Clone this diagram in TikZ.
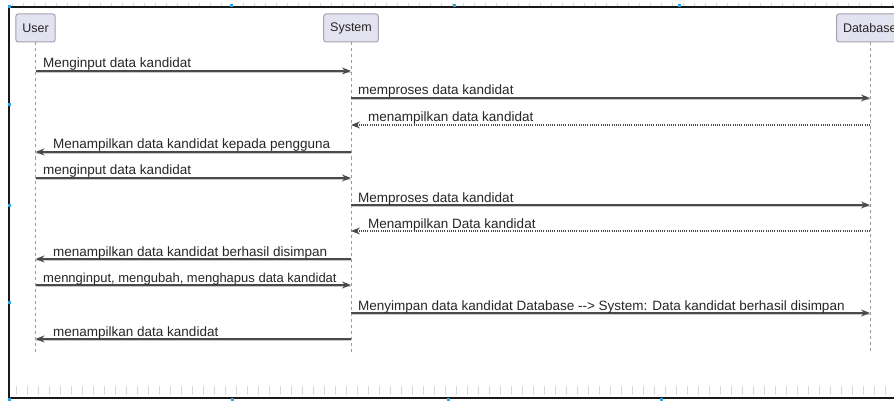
\documentclass[tikz,border=0pt]{standalone}
\usepackage{fontspec}
\setmainfont{Liberation Sans}
\usetikzlibrary{arrows.meta}
\definecolor{partfill}{HTML}{E2E2F0}
\definecolor{partdraw}{HTML}{A3A3B0}
\definecolor{lifegray}{HTML}{9A9A9A}
\definecolor{msggray}{HTML}{4A4A4A}
\definecolor{shadowgray}{HTML}{C8C8C8}
\definecolor{handle}{HTML}{2EA3E6}
\tikzset{
  participant/.style={draw=partdraw, fill=partfill, rounded corners=2.5pt, line width=1pt,
    minimum height=28pt, inner xsep=6.5pt, font=\fontsize{12.5}{14}\selectfont, text=black!85},
  lifeline/.style={draw=lifegray, line width=0.9pt, dash pattern=on 3pt off 3pt},
  msgshadow/.style={preaction={draw=shadowgray, line width=1.2pt, transform canvas={yshift=-1.6pt}, arrows=-}},
  msg/.style={msgshadow, draw=msggray, line width=1.3pt, -{Stealth[length=9pt,width=7pt,inset=3pt]}},
  reply/.style={draw=msggray, line width=1.1pt, dash pattern=on 1pt off 1.2pt,
    -{Stealth[length=9pt,width=7pt,inset=3pt]}},
  lbl/.style={font=\fontsize{13.5}{16}\selectfont, text=black!85, inner sep=0pt, anchor=base west},
  frameline/.style={draw=black!90, line width=2pt},
  tick/.style={draw=black!15, line width=0.6pt},
  hdl/.style={fill=handle, inner sep=0pt, minimum size=3pt, shape=rectangle}
}
\begin{document}
\begin{tikzpicture}[x=1pt, y=-1pt]
\useasboundingbox (0,0) rectangle (894,401);
\fill[white] (0,0) rectangle (894,401);

% faint ruler ticks along the top and bottom edges
\foreach \i in {0,...,80} {
  \draw[tick] (12+11*\i,3) -- (12+11*\i,6);
  \draw[tick] (16+11*\i,386) -- (16+11*\i,395);
}

% window frame
\draw[frameline] (894,7) -- (9,7) -- (9,398) -- (894,398);

% selection handles
\foreach \p in {(9,7),(231,6),(454,6),(679,6),(9,105),(9,205),(9,302),(9,399),(232,399),(448,399),(661,399)}
  \node[hdl] at \p {};

% participants
\node[participant] (user) at (35.5,28) {User};
\node[participant] (sys)  at (351,28) {System};
\node[participant, anchor=west] (db) at (836,28) {Database};

% lifeline ends
\coordinate (userEnd) at (35.5,352);
\coordinate (sysEnd)  at (351,352);
\coordinate (dbEnd)   at (870,352);
\coordinate (dbTop) at (870,42);

\draw[lifeline] (user.south) -- (userEnd);
\draw[lifeline] (sys.south) -- (sysEnd);
\draw[lifeline] (dbTop) -- (dbEnd);

% message anchor points on the lifelines
\foreach \n/\y in {1/71,2/98,3/125,4/152,5/178,6/205,7/231,8/259,9/285,10/313,11/339} {
  \coordinate (u\n) at (35.5,\y);
  \coordinate (s\n) at (351,\y);
  \coordinate (d\n) at (870,\y);
}

% messages
\draw[msg] (u1) -- (s1);
\node[lbl] (m1) at (43,68) {Menginput data kandidat};
\draw[msg] (s2) -- (d2);
\node[lbl] (m2) at (358,95) {memproses data kandidat};
\draw[reply] (d3) -- (s3);
\node[lbl] (m3) at (368,122) {menampilkan data kandidat};
\draw[msg] (s4) -- (u4);
\node[lbl] (m4) at (53,149) {Menampilkan data kandidat kepada pengguna};
\draw[msg] (u5) -- (s5);
\node[lbl] (m5) at (43,175) {menginput data kandidat};
\draw[msg] (s6) -- (d6);
\node[lbl] (m6) at (358,202) {Memproses data kandidat};
\draw[reply] (d7) -- (s7);
\node[lbl] (m7) at (368,228) {Menampilkan Data kandidat};
\draw[msg] (s8) -- (u8);
\node[lbl] (m8) at (53,256) {menampilkan data kandidat berhasil disimpan};
\draw[msg] (u9) -- (s9);
\node[lbl, font=\fontsize{13}{16}\selectfont] (m9) at (43,282) {mennginput, mengubah, menghapus data kandidat};
\draw[msg] (s10) -- (d10);
\node[lbl] (m10) at (358,310) {Menyimpan data kandidat Database -\kern0pt-> System: Data kandidat berhasil disimpan};
\draw[msg] (s11) -- (u11);
\node[lbl] (m11) at (53,336) {menampilkan data kandidat};
\end{tikzpicture}
\end{document}
